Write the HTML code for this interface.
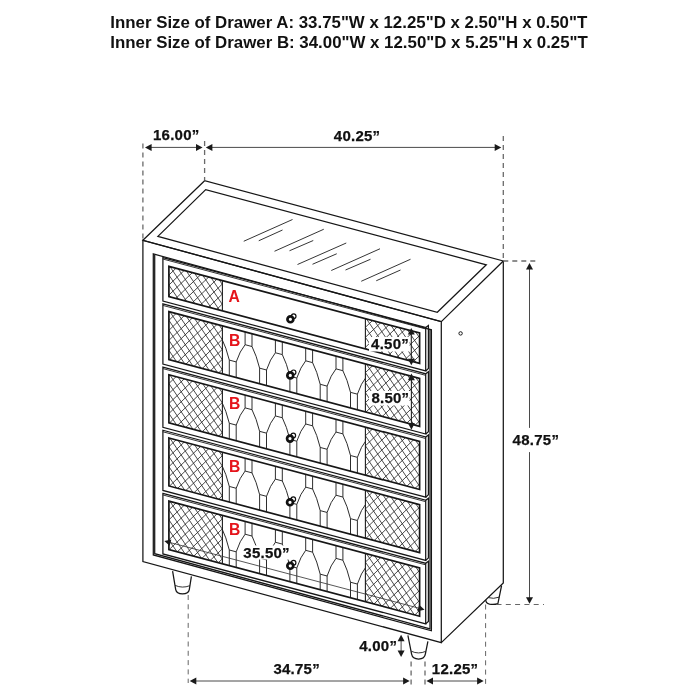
<!DOCTYPE html>
<html lang="en"><head><meta charset="utf-8"><title>Drawer chest dimensions</title>
<style>
html,body{margin:0;padding:0;background:#fff}
body{width:700px;height:700px;overflow:hidden;position:relative;font-family:"Liberation Sans",sans-serif}
.hd{will-change:transform;position:absolute;left:0;top:0;width:700px;text-align:center;font-weight:bold;font-size:16.85px;color:#111;line-height:21px;white-space:nowrap}
.hd div{position:absolute;left:110.3px}
svg{position:absolute;left:0;top:0;will-change:transform}
.l{fill:none;stroke:#161616;stroke-width:1.25;stroke-linejoin:miter}
.t{fill:none;stroke:#1e1e1e;stroke-width:.9}
.k{fill:none;stroke:#161616;stroke-width:1.7}
.m{fill:none;stroke:#1c1c1c;stroke-width:1.1}
.h path{fill:none;stroke:#2a2a2a;stroke-width:.85}
.p path{fill:none;stroke:#222;stroke-width:.95}
.kf{fill:#fff;stroke:#111;stroke-width:2.7}
.kb{fill:#fff;stroke:#111;stroke-width:1.2}
.da{stroke:#6a6a6a;stroke-width:1.3;stroke-dasharray:5 4;fill:none}
.db{stroke:#555;stroke-width:.9;stroke-dasharray:5 4.3;fill:none}
.dl{stroke:#4a4a4a;stroke-width:1;fill:none}
.dk{stroke:#222;stroke-width:1.1;fill:none}
.dt{stroke:#3a3a3a;stroke-width:.85;fill:none}
.ah{fill:#1a1a1a;stroke:none}
text{font-family:"Liberation Sans",sans-serif;font-weight:bold}
.d{font-size:15px;fill:#111;letter-spacing:.25px;stroke:#111;stroke-width:.25px}
.r{font-size:15.7px;fill:#e5141b}
</style></head><body>
<div class="hd"><div style="top:11.6px">Inner Size of Drawer A: 33.75"W x 12.25"D x 2.50"H x 0.50"T</div><div style="top:32.1px">Inner Size of Drawer B: 34.00"W x 12.50"D x 5.25"H x 0.25"T</div></div>
<svg width="700" height="700" viewBox="0 0 700 700">
<g id="drawing">
<polygon class="l" points="142.90,240.30 204.60,180.70 503.30,261.00 441.30,321.60" />
<polygon class="l" points="157.90,236.40 205.70,189.60 486.30,264.80 437.30,312.30" />
<line class="t" x1="243.75" y1="241.25" x2="292.50" y2="219.50" />
<line class="t" x1="258.75" y1="240.75" x2="282.50" y2="230.00" />
<line class="t" x1="274.50" y1="251.25" x2="323.75" y2="229.25" />
<line class="t" x1="289.50" y1="250.75" x2="313.25" y2="240.50" />
<line class="t" x1="297.50" y1="264.50" x2="346.25" y2="243.00" />
<line class="t" x1="312.50" y1="264.25" x2="336.75" y2="253.75" />
<line class="t" x1="331.25" y1="270.50" x2="380.00" y2="248.75" />
<line class="t" x1="345.50" y1="270.00" x2="370.50" y2="259.25" />
<line class="t" x1="361.25" y1="281.25" x2="410.50" y2="259.25" />
<line class="t" x1="376.25" y1="280.75" x2="400.50" y2="270.00" />
<polyline class="l" points="503.30,261.00 503.30,582.90 441.30,642.60" />
<circle class="l" cx="460.6" cy="333.4" r="1.7" style="stroke-width:1"/>
<polygon class="l" points="142.90,240.30 441.30,321.70 441.30,642.60 142.90,561.50" />
<polygon class="l" points="153.30,253.94 431.40,329.80 431.40,630.80 153.30,554.94" />
<polyline class="l" points="154.70,254.82 154.70,553.72 430.00,628.82 430.00,329.92" />
<polygon class="l" points="162.90,257.53 425.70,327.43 425.70,370.93 162.90,301.03" />
<line class="t" x1="162.90" y1="259.03" x2="425.70" y2="328.93" />
<polyline class="l" points="425.70,327.43 428.40,325.43 428.40,368.53 425.70,370.93" />
<clipPath id="cl0"><polygon points="168.90,266.33 222.40,280.56 222.40,310.86 168.90,296.63"/></clipPath><g clip-path="url(#cl0)" class="h"><path d="M168.90 185.02L222.40 264.52M168.90 195.02L222.40 274.52M168.90 205.02L222.40 284.52M168.90 215.02L222.40 294.52M168.90 225.02L222.40 304.52M168.90 235.02L222.40 314.52M168.90 245.02L222.40 324.52M168.90 255.02L222.40 334.52M168.90 265.02L222.40 344.52M168.90 275.02L222.40 354.52M168.90 285.02L222.40 364.52M168.90 295.02L222.40 374.52M168.90 305.02L222.40 384.52M168.90 315.02L222.40 394.52M168.90 255.03L222.40 203.99M168.90 265.03L222.40 213.99M168.90 275.03L222.40 223.99M168.90 285.03L222.40 233.99M168.90 295.03L222.40 243.99M168.90 305.03L222.40 253.99M168.90 315.03L222.40 263.99M168.90 325.03L222.40 273.99M168.90 335.03L222.40 283.99M168.90 345.03L222.40 293.99M168.90 355.03L222.40 303.99M168.90 365.03L222.40 313.99M168.90 375.03L222.40 323.99"/></g>
<clipPath id="cr0"><polygon points="365.40,318.59 419.60,333.01 419.60,363.31 365.40,348.89"/></clipPath><g clip-path="url(#cr0)" class="h"><path d="M365.40 237.29L419.60 317.83M365.40 247.29L419.60 327.83M365.40 257.29L419.60 337.83M365.40 267.29L419.60 347.83M365.40 277.29L419.60 357.83M365.40 287.29L419.60 367.83M365.40 297.29L419.60 377.83M365.40 307.29L419.60 387.83M365.40 317.29L419.60 397.83M365.40 327.29L419.60 407.83M365.40 337.29L419.60 417.83M365.40 347.29L419.60 427.83M365.40 357.29L419.60 437.83M365.40 367.29L419.60 447.83M365.40 307.30L419.60 255.59M365.40 317.30L419.60 265.59M365.40 327.30L419.60 275.59M365.40 337.30L419.60 285.59M365.40 347.30L419.60 295.59M365.40 357.30L419.60 305.59M365.40 367.30L419.60 315.59M365.40 377.30L419.60 325.59M365.40 387.30L419.60 335.59M365.40 397.30L419.60 345.59M365.40 407.30L419.60 355.59M365.40 417.30L419.60 365.59M365.40 427.30L419.60 375.59"/></g>
<polygon class="k" points="168.90,266.33 419.60,333.01 419.60,363.31 168.90,296.63" />
<line class="m" x1="222.40" y1="280.56" x2="222.40" y2="310.86" />
<line class="m" x1="365.40" y1="318.59" x2="365.40" y2="348.89" />
<polygon class="l" points="162.90,303.93 425.70,373.83 425.70,434.03 162.90,364.13" />
<line class="t" x1="162.90" y1="305.43" x2="425.70" y2="375.33" />
<polyline class="l" points="425.70,373.83 428.40,371.83 428.40,431.63 425.70,434.03" />
<clipPath id="cl1"><polygon points="168.90,311.63 222.40,325.86 222.40,373.86 168.90,359.63"/></clipPath><g clip-path="url(#cl1)" class="h"><path d="M168.90 230.32L222.40 309.82M168.90 240.32L222.40 319.82M168.90 250.32L222.40 329.83M168.90 260.32L222.40 339.83M168.90 270.32L222.40 349.83M168.90 280.32L222.40 359.83M168.90 290.32L222.40 369.83M168.90 300.32L222.40 379.83M168.90 310.32L222.40 389.83M168.90 320.32L222.40 399.83M168.90 330.32L222.40 409.83M168.90 340.32L222.40 419.83M168.90 350.32L222.40 429.82M168.90 360.32L222.40 439.82M168.90 370.32L222.40 449.82M168.90 300.33L222.40 249.29M168.90 310.33L222.40 259.29M168.90 320.33L222.40 269.29M168.90 330.33L222.40 279.29M168.90 340.33L222.40 289.29M168.90 350.33L222.40 299.29M168.90 360.33L222.40 309.29M168.90 370.33L222.40 319.29M168.90 380.33L222.40 329.29M168.90 390.33L222.40 339.29M168.90 400.33L222.40 349.29M168.90 410.33L222.40 359.29M168.90 420.33L222.40 369.29M168.90 430.33L222.40 379.29M168.90 440.33L222.40 389.29"/></g>
<clipPath id="cr1"><polygon points="365.40,363.89 419.60,378.31 419.60,426.31 365.40,411.89"/></clipPath><g clip-path="url(#cr1)" class="h"><path d="M365.40 282.59L419.60 363.13M365.40 292.59L419.60 373.13M365.40 302.59L419.60 383.13M365.40 312.59L419.60 393.13M365.40 322.59L419.60 403.13M365.40 332.59L419.60 413.13M365.40 342.59L419.60 423.13M365.40 352.59L419.60 433.13M365.40 362.59L419.60 443.13M365.40 372.59L419.60 453.13M365.40 382.59L419.60 463.13M365.40 392.59L419.60 473.13M365.40 402.59L419.60 483.13M365.40 412.59L419.60 493.13M365.40 422.59L419.60 503.13M365.40 352.60L419.60 300.89M365.40 362.60L419.60 310.89M365.40 372.60L419.60 320.89M365.40 382.60L419.60 330.89M365.40 392.60L419.60 340.89M365.40 402.60L419.60 350.89M365.40 412.60L419.60 360.89M365.40 422.60L419.60 370.89M365.40 432.60L419.60 380.89M365.40 442.60L419.60 390.89M365.40 452.60L419.60 400.89M365.40 462.60L419.60 410.89M365.40 472.60L419.60 420.89M365.40 482.60L419.60 430.89M365.40 492.60L419.60 440.89"/></g>
<clipPath id="cb1"><polygon points="222.40,325.86 365.40,363.89 365.40,411.89 222.40,373.86"/></clipPath><g clip-path="url(#cb1)" class="p"><path d="M199.00 367.63L199.00 352.03L205.90 353.87L205.90 369.47M205.90 353.87Q209.64 342.71 214.80 336.64M214.80 323.84L214.80 336.64L221.70 338.47L221.70 325.67M221.70 338.47Q226.11 347.09 229.30 360.09M229.30 375.69L229.30 360.09L236.20 361.93L236.20 377.53M236.20 361.93Q239.94 350.77 245.10 344.70M245.10 331.90L245.10 344.70L252.00 346.53L252.00 333.73M252.00 346.53Q256.41 355.15 259.60 368.15M259.60 383.75L259.60 368.15L266.50 369.99L266.50 385.59M266.50 369.99Q270.24 358.83 275.40 352.75M275.40 339.95L275.40 352.75L282.30 354.59L282.30 341.79M282.30 354.59Q286.71 363.21 289.90 376.21M289.90 391.81L289.90 376.21L296.80 378.05L296.80 393.65M296.80 378.05Q300.54 366.89 305.70 360.81M305.70 348.01L305.70 360.81L312.60 362.65L312.60 349.85M312.60 362.65Q317.01 371.27 320.20 384.27M320.20 399.87L320.20 384.27L327.10 386.11L327.10 401.71M327.10 386.11Q330.84 374.95 336.00 368.87M336.00 356.07L336.00 368.87L342.90 370.71L342.90 357.91M342.90 370.71Q347.31 379.33 350.50 392.33M350.50 407.93L350.50 392.33L357.40 394.17L357.40 409.77M357.40 394.17Q361.14 383.01 366.30 376.93M366.30 364.13L366.30 376.93L373.20 378.77L373.20 365.97M373.20 378.77Q377.61 387.39 380.80 400.39"/></g>
<polygon class="k" points="168.90,311.63 419.60,378.31 419.60,426.31 168.90,359.63" />
<line class="m" x1="222.40" y1="325.86" x2="222.40" y2="373.86" />
<line class="m" x1="365.40" y1="363.89" x2="365.40" y2="411.89" />
<polygon class="l" points="162.90,367.10 425.70,437.00 425.70,497.20 162.90,427.30" />
<line class="t" x1="162.90" y1="368.60" x2="425.70" y2="438.50" />
<polyline class="l" points="425.70,437.00 428.40,435.00 428.40,494.80 425.70,497.20" />
<clipPath id="cl2"><polygon points="168.90,374.80 222.40,389.03 222.40,437.03 168.90,422.80"/></clipPath><g clip-path="url(#cl2)" class="h"><path d="M168.90 293.49L222.40 373.00M168.90 303.49L222.40 383.00M168.90 313.49L222.40 393.00M168.90 323.49L222.40 403.00M168.90 333.49L222.40 413.00M168.90 343.49L222.40 423.00M168.90 353.49L222.40 433.00M168.90 363.49L222.40 443.00M168.90 373.49L222.40 453.00M168.90 383.49L222.40 463.00M168.90 393.49L222.40 473.00M168.90 403.49L222.40 483.00M168.90 413.49L222.40 493.00M168.90 423.49L222.40 503.00M168.90 433.49L222.40 513.00M168.90 363.50L222.40 312.46M168.90 373.50L222.40 322.46M168.90 383.50L222.40 332.46M168.90 393.50L222.40 342.46M168.90 403.50L222.40 352.46M168.90 413.50L222.40 362.46M168.90 423.50L222.40 372.46M168.90 433.50L222.40 382.46M168.90 443.50L222.40 392.46M168.90 453.50L222.40 402.46M168.90 463.50L222.40 412.46M168.90 473.50L222.40 422.46M168.90 483.50L222.40 432.46M168.90 493.50L222.40 442.46M168.90 503.50L222.40 452.46"/></g>
<clipPath id="cr2"><polygon points="365.40,427.06 419.60,441.48 419.60,489.48 365.40,475.06"/></clipPath><g clip-path="url(#cr2)" class="h"><path d="M365.40 345.76L419.60 426.30M365.40 355.76L419.60 436.30M365.40 365.76L419.60 446.30M365.40 375.76L419.60 456.30M365.40 385.76L419.60 466.30M365.40 395.76L419.60 476.30M365.40 405.76L419.60 486.30M365.40 415.76L419.60 496.30M365.40 425.76L419.60 506.30M365.40 435.76L419.60 516.30M365.40 445.76L419.60 526.30M365.40 455.76L419.60 536.30M365.40 465.76L419.60 546.30M365.40 475.76L419.60 556.30M365.40 485.76L419.60 566.30M365.40 415.77L419.60 364.06M365.40 425.77L419.60 374.06M365.40 435.77L419.60 384.06M365.40 445.77L419.60 394.06M365.40 455.77L419.60 404.06M365.40 465.77L419.60 414.06M365.40 475.77L419.60 424.06M365.40 485.77L419.60 434.06M365.40 495.77L419.60 444.06M365.40 505.77L419.60 454.06M365.40 515.77L419.60 464.06M365.40 525.77L419.60 474.06M365.40 535.77L419.60 484.06M365.40 545.77L419.60 494.06M365.40 555.77L419.60 504.06"/></g>
<clipPath id="cb2"><polygon points="222.40,389.03 365.40,427.06 365.40,475.06 222.40,437.03"/></clipPath><g clip-path="url(#cb2)" class="p"><path d="M199.00 430.80L199.00 415.20L205.90 417.04L205.90 432.64M205.90 417.04Q209.64 405.88 214.80 399.81M214.80 387.01L214.80 399.81L221.70 401.64L221.70 388.84M221.70 401.64Q226.11 410.26 229.30 423.26M229.30 438.86L229.30 423.26L236.20 425.10L236.20 440.70M236.20 425.10Q239.94 413.94 245.10 407.87M245.10 395.07L245.10 407.87L252.00 409.70L252.00 396.90M252.00 409.70Q256.41 418.32 259.60 431.32M259.60 446.92L259.60 431.32L266.50 433.16L266.50 448.76M266.50 433.16Q270.24 422.00 275.40 415.92M275.40 403.12L275.40 415.92L282.30 417.76L282.30 404.96M282.30 417.76Q286.71 426.38 289.90 439.38M289.90 454.98L289.90 439.38L296.80 441.22L296.80 456.82M296.80 441.22Q300.54 430.06 305.70 423.98M305.70 411.18L305.70 423.98L312.60 425.82L312.60 413.02M312.60 425.82Q317.01 434.44 320.20 447.44M320.20 463.04L320.20 447.44L327.10 449.28L327.10 464.88M327.10 449.28Q330.84 438.12 336.00 432.04M336.00 419.24L336.00 432.04L342.90 433.88L342.90 421.08M342.90 433.88Q347.31 442.50 350.50 455.50M350.50 471.10L350.50 455.50L357.40 457.34L357.40 472.94M357.40 457.34Q361.14 446.18 366.30 440.10M366.30 427.30L366.30 440.10L373.20 441.94L373.20 429.14M373.20 441.94Q377.61 450.56 380.80 463.56"/></g>
<polygon class="k" points="168.90,374.80 419.60,441.48 419.60,489.48 168.90,422.80" />
<line class="m" x1="222.40" y1="389.03" x2="222.40" y2="437.03" />
<line class="m" x1="365.40" y1="427.06" x2="365.40" y2="475.06" />
<polygon class="l" points="162.90,430.27 425.70,500.17 425.70,560.37 162.90,490.47" />
<line class="t" x1="162.90" y1="431.77" x2="425.70" y2="501.67" />
<polyline class="l" points="425.70,500.17 428.40,498.17 428.40,557.97 425.70,560.37" />
<clipPath id="cl3"><polygon points="168.90,437.97 222.40,452.20 222.40,500.20 168.90,485.97"/></clipPath><g clip-path="url(#cl3)" class="h"><path d="M168.90 356.66L222.40 436.17M168.90 366.66L222.40 446.17M168.90 376.66L222.40 456.17M168.90 386.66L222.40 466.17M168.90 396.66L222.40 476.17M168.90 406.66L222.40 486.17M168.90 416.66L222.40 496.17M168.90 426.66L222.40 506.17M168.90 436.66L222.40 516.16M168.90 446.66L222.40 526.16M168.90 456.66L222.40 536.16M168.90 466.66L222.40 546.16M168.90 476.66L222.40 556.16M168.90 486.66L222.40 566.16M168.90 496.66L222.40 576.16M168.90 426.67L222.40 375.63M168.90 436.67L222.40 385.63M168.90 446.67L222.40 395.63M168.90 456.67L222.40 405.63M168.90 466.67L222.40 415.63M168.90 476.67L222.40 425.63M168.90 486.67L222.40 435.63M168.90 496.67L222.40 445.63M168.90 506.67L222.40 455.63M168.90 516.67L222.40 465.63M168.90 526.67L222.40 475.63M168.90 536.67L222.40 485.63M168.90 546.67L222.40 495.63M168.90 556.67L222.40 505.63M168.90 566.67L222.40 515.63"/></g>
<clipPath id="cr3"><polygon points="365.40,490.24 419.60,504.65 419.60,552.65 365.40,538.24"/></clipPath><g clip-path="url(#cr3)" class="h"><path d="M365.40 408.93L419.60 489.47M365.40 418.93L419.60 499.47M365.40 428.93L419.60 509.47M365.40 438.93L419.60 519.47M365.40 448.93L419.60 529.47M365.40 458.93L419.60 539.47M365.40 468.93L419.60 549.47M365.40 478.93L419.60 559.47M365.40 488.93L419.60 569.47M365.40 498.93L419.60 579.47M365.40 508.93L419.60 589.47M365.40 518.93L419.60 599.47M365.40 528.93L419.60 609.47M365.40 538.93L419.60 619.47M365.40 548.93L419.60 629.47M365.40 478.94L419.60 427.23M365.40 488.94L419.60 437.23M365.40 498.94L419.60 447.23M365.40 508.94L419.60 457.23M365.40 518.94L419.60 467.23M365.40 528.94L419.60 477.23M365.40 538.94L419.60 487.23M365.40 548.94L419.60 497.23M365.40 558.94L419.60 507.23M365.40 568.94L419.60 517.23M365.40 578.94L419.60 527.23M365.40 588.94L419.60 537.23M365.40 598.94L419.60 547.23M365.40 608.94L419.60 557.23M365.40 618.94L419.60 567.23"/></g>
<clipPath id="cb3"><polygon points="222.40,452.20 365.40,490.24 365.40,538.24 222.40,500.20"/></clipPath><g clip-path="url(#cb3)" class="p"><path d="M199.00 493.97L199.00 478.37L205.90 480.21L205.90 495.81M205.90 480.21Q209.64 469.05 214.80 462.98M214.80 450.18L214.80 462.98L221.70 464.81L221.70 452.01M221.70 464.81Q226.11 473.43 229.30 486.43M229.30 502.03L229.30 486.43L236.20 488.27L236.20 503.87M236.20 488.27Q239.94 477.11 245.10 471.04M245.10 458.24L245.10 471.04L252.00 472.87L252.00 460.07M252.00 472.87Q256.41 481.49 259.60 494.49M259.60 510.09L259.60 494.49L266.50 496.33L266.50 511.93M266.50 496.33Q270.24 485.17 275.40 479.10M275.40 466.29L275.40 479.10L282.30 480.93L282.30 468.13M282.30 480.93Q286.71 489.55 289.90 502.55M289.90 518.15L289.90 502.55L296.80 504.39L296.80 519.99M296.80 504.39Q300.54 493.23 305.70 487.15M305.70 474.35L305.70 487.15L312.60 488.99L312.60 476.19M312.60 488.99Q317.01 497.61 320.20 510.61M320.20 526.21L320.20 510.61L327.10 512.45L327.10 528.05M327.10 512.45Q330.84 501.29 336.00 495.21M336.00 482.41L336.00 495.21L342.90 497.05L342.90 484.25M342.90 497.05Q347.31 505.67 350.50 518.67M350.50 534.27L350.50 518.67L357.40 520.51L357.40 536.11M357.40 520.51Q361.14 509.35 366.30 503.27M366.30 490.47L366.30 503.27L373.20 505.11L373.20 492.31M373.20 505.11Q377.61 513.73 380.80 526.73"/></g>
<polygon class="k" points="168.90,437.97 419.60,504.65 419.60,552.65 168.90,485.97" />
<line class="m" x1="222.40" y1="452.20" x2="222.40" y2="500.20" />
<line class="m" x1="365.40" y1="490.24" x2="365.40" y2="538.24" />
<polygon class="l" points="162.90,493.44 425.70,563.34 425.70,623.83 162.90,553.93" />
<line class="t" x1="162.90" y1="494.94" x2="425.70" y2="564.84" />
<polyline class="l" points="425.70,563.34 428.40,561.34 428.40,621.43 425.70,623.83" />
<clipPath id="cl4"><polygon points="168.90,501.14 222.40,515.37 222.40,563.76 168.90,549.53"/></clipPath><g clip-path="url(#cl4)" class="h"><path d="M168.90 419.83L222.40 499.33M168.90 429.83L222.40 509.33M168.90 439.83L222.40 519.34M168.90 449.83L222.40 529.34M168.90 459.83L222.40 539.34M168.90 469.83L222.40 549.34M168.90 479.83L222.40 559.34M168.90 489.83L222.40 569.34M168.90 499.83L222.40 579.34M168.90 509.83L222.40 589.34M168.90 519.83L222.40 599.34M168.90 529.83L222.40 609.34M168.90 539.83L222.40 619.34M168.90 549.83L222.40 629.34M168.90 559.83L222.40 639.34M168.90 489.84L222.40 438.80M168.90 499.84L222.40 448.80M168.90 509.84L222.40 458.80M168.90 519.84L222.40 468.80M168.90 529.84L222.40 478.80M168.90 539.84L222.40 488.80M168.90 549.84L222.40 498.80M168.90 559.84L222.40 508.80M168.90 569.84L222.40 518.80M168.90 579.84L222.40 528.80M168.90 589.84L222.40 538.80M168.90 599.84L222.40 548.80M168.90 609.84L222.40 558.80M168.90 619.84L222.40 568.80M168.90 629.84L222.40 578.80"/></g>
<clipPath id="cr4"><polygon points="365.40,553.40 419.60,567.82 419.60,616.21 365.40,601.79"/></clipPath><g clip-path="url(#cr4)" class="h"><path d="M365.40 472.10L419.60 552.64M365.40 482.10L419.60 562.64M365.40 492.10L419.60 572.64M365.40 502.10L419.60 582.64M365.40 512.10L419.60 592.64M365.40 522.10L419.60 602.64M365.40 532.10L419.60 612.64M365.40 542.10L419.60 622.64M365.40 552.10L419.60 632.64M365.40 562.10L419.60 642.64M365.40 572.10L419.60 652.64M365.40 582.10L419.60 662.64M365.40 592.10L419.60 672.64M365.40 602.10L419.60 682.64M365.40 612.10L419.60 692.64M365.40 542.11L419.60 490.40M365.40 552.11L419.60 500.40M365.40 562.11L419.60 510.40M365.40 572.11L419.60 520.40M365.40 582.11L419.60 530.40M365.40 592.11L419.60 540.40M365.40 602.11L419.60 550.40M365.40 612.11L419.60 560.40M365.40 622.11L419.60 570.40M365.40 632.11L419.60 580.40M365.40 642.11L419.60 590.40M365.40 652.11L419.60 600.40M365.40 662.11L419.60 610.40M365.40 672.11L419.60 620.40M365.40 682.11L419.60 630.40"/></g>
<clipPath id="cb4"><polygon points="222.40,515.37 365.40,553.40 365.40,601.79 222.40,563.76"/></clipPath><g clip-path="url(#cb4)" class="p"><path d="M199.00 557.53L199.00 541.93L205.90 543.77L205.90 559.37M205.90 543.77Q209.64 532.37 214.80 526.15M214.80 513.35L214.80 526.15L221.70 527.98L221.70 515.18M221.70 527.98Q226.11 536.75 229.30 549.99M229.30 565.59L229.30 549.99L236.20 551.83L236.20 567.43M236.20 551.83Q239.94 540.43 245.10 534.21M245.10 521.41L245.10 534.21L252.00 536.04L252.00 523.24M252.00 536.04Q256.41 544.81 259.60 558.05M259.60 573.65L259.60 558.05L266.50 559.89L266.50 575.49M266.50 559.89Q270.24 548.49 275.40 542.26M275.40 529.46L275.40 542.26L282.30 544.10L282.30 531.30M282.30 544.10Q286.71 552.87 289.90 566.11M289.90 581.71L289.90 566.11L296.80 567.95L296.80 583.55M296.80 567.95Q300.54 556.55 305.70 550.32M305.70 537.52L305.70 550.32L312.60 552.16L312.60 539.36M312.60 552.16Q317.01 560.93 320.20 574.17M320.20 589.77L320.20 574.17L327.10 576.01L327.10 591.61M327.10 576.01Q330.84 564.61 336.00 558.38M336.00 545.58L336.00 558.38L342.90 560.22L342.90 547.42M342.90 560.22Q347.31 568.99 350.50 582.23M350.50 597.83L350.50 582.23L357.40 584.07L357.40 599.67M357.40 584.07Q361.14 572.67 366.30 566.44M366.30 553.64L366.30 566.44L373.20 568.28L373.20 555.48M373.20 568.28Q377.61 577.05 380.80 590.29"/></g>
<polygon class="k" points="168.90,501.14 419.60,567.82 419.60,616.21 168.90,549.53" />
<line class="m" x1="222.40" y1="515.37" x2="222.40" y2="563.76" />
<line class="m" x1="365.40" y1="553.40" x2="365.40" y2="601.79" />
<circle cx="293.7" cy="316.2" r="2.3" class="kb"/>
<circle cx="290.4" cy="319.3" r="2.95" class="kf"/>
<circle cx="293.6" cy="372.3" r="2.3" class="kb"/>
<circle cx="290.3" cy="375.4" r="2.95" class="kf"/>
<circle cx="293.3" cy="435.5" r="2.3" class="kb"/>
<circle cx="290.0" cy="438.6" r="2.95" class="kf"/>
<circle cx="293.3" cy="499.2" r="2.3" class="kb"/>
<circle cx="290.0" cy="502.3" r="2.95" class="kf"/>
<circle cx="293.6" cy="562.7" r="2.3" class="kb"/>
<circle cx="290.3" cy="565.8" r="2.95" class="kf"/>
<path class="l" fill="#fff" d="M172.6 571.1 L175.7 589.6 Q176.5 593.8 182.5 593.8 Q188.6 593.8 189.3 589.6 L191.4 576.4"/>
<path class="t" d="M175.1 585.4 Q182.3 588.6 189.8 585.7"/>
<path class="l" fill="#fff" d="M407.9 635.4 L411.6 654.2 Q412.5 659 418.6 659 Q424.7 659 425.4 653.9 L427.9 641.4"/>
<path class="t" d="M411.2 651.2 Q418.4 654.6 425.9 651.3"/>
<path class="l" fill="none" d="M485.9 600.1 Q485.6 603 489.5 604.1 Q494 605 497.9 603.6 L501.6 585.5"/>
<path class="t" d="M488.3 597.6 Q493.5 599.2 499.0 597.2"/>
</g>
<g id="dims">
<line class="da" x1="142.90" y1="143.60" x2="142.90" y2="240.00" />
<line class="da" x1="204.60" y1="141.00" x2="204.60" y2="180.50" />
<line class="da" x1="503.30" y1="136.00" x2="503.30" y2="261.00" />
<line class="da" x1="503.30" y1="261.00" x2="535.50" y2="261.00" />
<line class="db" x1="496.50" y1="604.50" x2="544.00" y2="604.50" />
<line class="db" x1="485.60" y1="604.50" x2="485.60" y2="684.50" />
<line class="db" x1="188.20" y1="595.00" x2="188.20" y2="683.00" />
<line class="da" x1="411.10" y1="661.40" x2="411.10" y2="685.00" />
<line class="da" x1="425.00" y1="661.40" x2="425.00" y2="685.00" />
<line class="dl" x1="148.00" y1="147.40" x2="199.60" y2="147.40" /><polygon class="ah" points="202.60,147.40 196.00,150.90 196.00,143.90"/><polygon class="ah" points="145.00,147.40 151.60,143.90 151.60,150.90"/>
<line class="dl" x1="208.80" y1="147.40" x2="498.30" y2="147.40" /><polygon class="ah" points="501.30,147.40 494.70,150.90 494.70,143.90"/><polygon class="ah" points="205.80,147.40 212.40,143.90 212.40,150.90"/>
<line class="dl" x1="529.50" y1="266.00" x2="529.50" y2="427.90" />
<line class="dl" x1="529.50" y1="452.10" x2="529.50" y2="600.00" />
<polygon class="ah" points="529.50,263.00 533.00,269.60 526.00,269.60"/>
<polygon class="ah" points="529.50,603.80 526.00,597.20 533.00,597.20"/>
<line class="dl" x1="192.70" y1="681.00" x2="406.70" y2="681.00" /><polygon class="ah" points="409.70,681.00 403.10,684.50 403.10,677.50"/><polygon class="ah" points="189.70,681.00 196.30,677.50 196.30,684.50"/>
<line class="dl" x1="429.40" y1="681.00" x2="480.70" y2="681.00" /><polygon class="ah" points="483.70,681.00 477.10,684.50 477.10,677.50"/><polygon class="ah" points="426.40,681.00 433.00,677.50 433.00,684.50"/>
<line class="dl" x1="401.10" y1="637.70" x2="401.10" y2="654.10" /><polygon class="ah" points="401.10,657.10 397.60,650.50 404.60,650.50"/><polygon class="ah" points="401.10,634.70 404.60,641.30 397.60,641.30"/>
<line class="dk" x1="411.30" y1="331.00" x2="411.30" y2="362.30" /><polygon class="ah" points="411.30,365.30 407.80,358.70 414.80,358.70"/><polygon class="ah" points="411.30,328.00 414.80,334.60 407.80,334.60"/>
<line class="dk" x1="411.40" y1="376.60" x2="411.40" y2="426.70" /><polygon class="ah" points="411.40,429.70 407.90,423.10 414.90,423.10"/><polygon class="ah" points="411.40,373.60 414.90,380.20 407.90,380.20"/>
<line class="dt" x1="168.00" y1="542.00" x2="420.50" y2="608.60" />
<polygon class="ah" points="164.30,541.00 171.33,539.46 169.63,545.83"/>
<polygon class="ah" points="424.50,609.70 417.47,611.24 419.17,604.87"/>
<rect x="369" y="337" width="40.5" height="14.5" fill="#fff"/>
<rect x="369" y="391" width="40.5" height="14.5" fill="#fff"/>
<rect x="242.5" y="545.5" width="47.5" height="14" fill="#fff"/>
<text class="d" x="153.0" y="140.4" text-anchor="start" >16.00”</text>
<text class="d" x="333.8" y="140.8" text-anchor="start" >40.25”</text>
<text class="d" x="512.6" y="445.0" text-anchor="start" >48.75”</text>
<text class="d" x="371.1" y="349.4" text-anchor="start" >4.50”</text>
<text class="d" x="371.4" y="403.3" text-anchor="start" >8.50”</text>
<text class="d" x="243.3" y="557.8" text-anchor="start" >35.50”</text>
<text class="d" x="359.2" y="651.4" text-anchor="start" >4.00”</text>
<text class="d" x="273.4" y="674.4" text-anchor="start" >34.75”</text>
<text class="d" x="431.8" y="674.2" text-anchor="start" >12.25”</text>
<text class="r" x="228.5" y="301.8" text-anchor="start" >A</text>
<text class="r" x="228.9" y="345.6" text-anchor="start" >B</text>
<text class="r" x="228.9" y="408.6" text-anchor="start" >B</text>
<text class="r" x="228.9" y="471.5" text-anchor="start" >B</text>
<text class="r" x="228.9" y="534.5" text-anchor="start" >B</text>
</g>
</svg>
</body></html>
